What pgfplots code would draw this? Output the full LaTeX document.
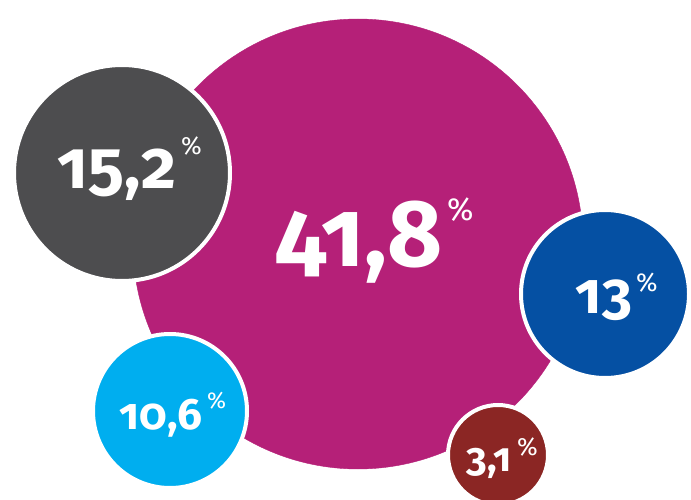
\documentclass[border=0pt]{standalone}
\usepackage{pgfplots}
\pgfplotsset{compat=1.18}
\usepackage{fontspec}
\setmainfont{Fira Sans}[Numbers=OldStyle]
\definecolor{cMag}{RGB}{181,32,120}
\definecolor{cGray}{RGB}{77,77,79}
\definecolor{cBlue}{RGB}{5,80,163}
\definecolor{cCyan}{RGB}{0,174,239}
\definecolor{cRed}{RGB}{139,38,36}
\newcommand{\num}[2]{\fontsize{#1}{#1}\selectfont\bfseries #2}
\newcommand{\pct}[1]{\fontsize{#1}{#1}\selectfont\%}
\begin{document}
\begin{tikzpicture}
\begin{axis}[
  width=691pt, height=500pt, scale only axis,
  xmin=0, xmax=691, ymin=0, ymax=500, y dir=reverse,
  hide axis, clip=true, clip marker paths=true,
  every axis plot/.append style={only marks, mark=*},
]
% bubbles: centre x, centre y (pixels from top), radius
\addplot[mark size=225pt, mark options={fill=cMag, draw=cMag}] coordinates {(358,244)};
\addplot[mark size=108pt, mark options={fill=cGray, draw=white, line width=4pt}] coordinates {(122,173)};
\addplot[mark size=84pt, mark options={fill=cBlue, draw=white, line width=4pt}] coordinates {(605,294)};
\addplot[mark size=77pt, mark options={fill=cCyan, draw=white, line width=4pt}] coordinates {(170,411)};
\addplot[mark size=50pt, mark options={fill=cRed, draw=white, line width=4pt}] coordinates {(498,455)};

\begin{scope}[every node/.style={text=white, inner sep=0pt}]
\node[anchor=base] at (axis cs:359,266) {\num{95pt}{41,8}};
\node[anchor=base west] at (axis cs:447,220) {\pct{32pt}};
\node[anchor=base] at (axis cs:117,189) {\num{68pt}{15,2}};
\node[anchor=base west] at (axis cs:181,155) {\pct{25pt}};
\node[anchor=base] at (axis cs:604,313) {\num{58pt}{13}};
\node[anchor=base west] at (axis cs:636,291) {\pct{26pt}};
\node[anchor=base] at (axis cs:161,429) {\num{44pt}{10,6}};
\node[anchor=base west] at (axis cs:207,408) {\pct{23pt}};
\node[anchor=base] at (axis cs:489,471) {\num{40pt}{3,1}};
\node[anchor=base west] at (axis cs:517,455) {\pct{25pt}};
\end{scope}
\end{axis}
\pgfresetboundingbox
\path[use as bounding box] (current axis.south west) rectangle (current axis.north east);
\end{tikzpicture}
\end{document}
